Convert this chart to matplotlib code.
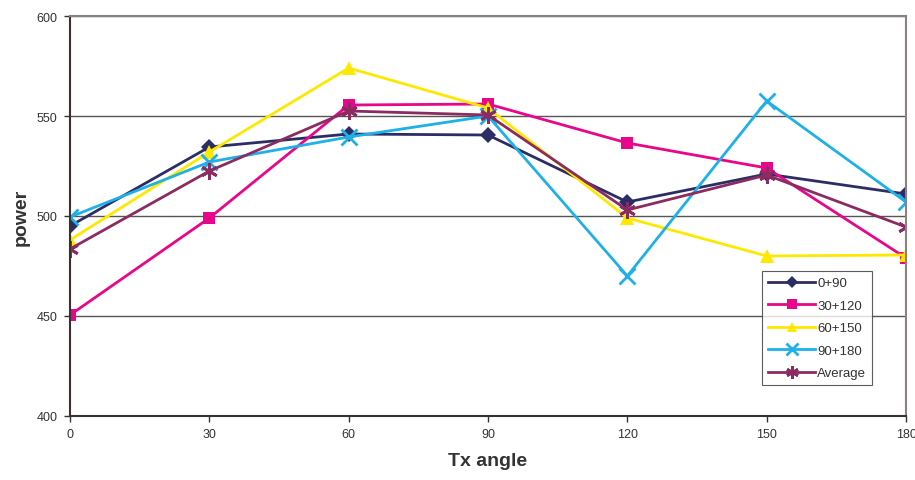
import numpy as np
import matplotlib.pyplot as plt

plt.rcParams['font.family'] = ['Liberation Sans', 'DejaVu Sans']

angles = [0, 30, 60, 90, 120, 150, 180]
p_0_90 = [495, 534.5, 541, 540.5, 507, 521, 511]
p_30_120 = [450.5, 499, 555.5, 556, 536.5, 524, 479]
p_60_150 = [488, 532, 574, 554, 499, 480, 480.5]
p_90_180 = [499.5, 527, 539.5, 550, 470, 557.5, 507]
p_avg = [483.5, 522.5, 552.5, 550.5, 503, 520.5, 494.5]

series = [
    ("0+90", p_0_90, "#2d2d66", "D", 8),
    ("30+120", p_30_120, "#e8068a", "s", 9),
    ("60+150", p_60_150, "#ffe800", "^", 10),
    ("90+180", p_90_180, "#1fb0e8", "x", 11),
    ("Average", p_avg, "#8c2b60", (6, 2, 0), 12),
]

fig = plt.figure(figsize=(9.15, 4.81), dpi=100)
ax = fig.add_axes([70 / 915, 64 / 481, 836 / 915, 400 / 481])

for label, vals, color, marker, ms in series:
    kw = dict(markeredgewidth=2) if marker in ("x", (6, 2, 0)) else dict(markeredgewidth=0)
    ax.plot(angles, vals, color=color, lw=2, marker=marker, markersize=ms,
            label=label, **kw)

ax.set_xlim(0, 180)
ax.set_ylim(400, 600)
ax.set_xticks(angles)
ax.set_yticks(np.arange(400, 601, 50))
ax.yaxis.grid(True, color="#555555", lw=1)
ax.set_axisbelow(True)
ax.tick_params(labelsize=9, colors="#333333", length=4, width=1, pad=5)

for side in ("top", "right"):
    ax.spines[side].set_color("#8a8080")
    ax.spines[side].set_linewidth(1.5)
for side in ("left", "bottom"):
    ax.spines[side].set_color("#3a3030")
    ax.spines[side].set_linewidth(1.5)

ax.set_xlabel("Tx angle", fontsize=14, fontweight="bold", color="#333333", labelpad=8)
ax.set_ylabel("power", fontsize=14, fontweight="bold", color="#333333", labelpad=5)

leg = ax.legend(loc="upper left", bbox_to_anchor=(692 / 836, (417 - 272) / 400),
                fontsize=9.5, frameon=True, fancybox=False, edgecolor="#333333",
                handlelength=3.6, borderpad=0.45, labelspacing=0.78, handletextpad=0.15,
                borderaxespad=0, markerscale=0.75)
leg.get_frame().set_linewidth(0.8)
for t in leg.get_texts():
    t.set_color("#333333")

fig.savefig("out.png", dpi=100)
